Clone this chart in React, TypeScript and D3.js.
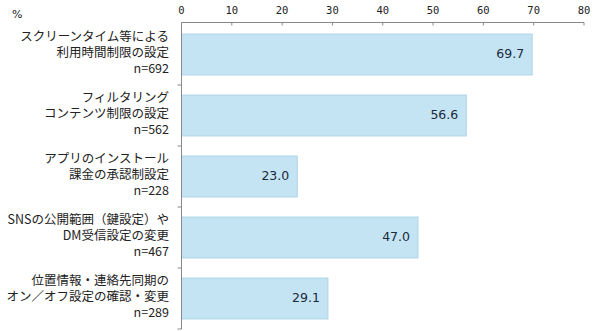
import React from "react";
import * as d3 from "d3";

const categories: string[][] = [
  ["スクリーンタイム等による", "利用時間制限の設定", "n=692"],
  ["フィルタリング", "コンテンツ制限の設定", "n=562"],
  ["アプリのインストール", "課金の承認制設定", "n=228"],
  ["SNSの公開範囲（鍵設定）や", "DM受信設定の変更", "n=467"],
  ["位置情報・連絡先同期の", "オン／オフ設定の確認・変更", "n=289"],
];
const values: number[] = [69.7, 56.6, 23.0, 47.0, 29.1];
const ticks: number[] = [0, 10, 20, 30, 40, 50, 60, 70, 80];

export default function App() {
  const W = 600, H = 331;
  const x = d3.scaleLinear().domain([0, 80]).range([181.5, 584]);
  const ids = categories.map((_, i) => String(i));
  const y = d3.scaleBand().domain(ids).range([24, 329]).paddingInner(0.33).paddingOuter(0.165);
  const band = d3.scaleBand().domain(ids).range([24, 329]);
  const jp = "'Noto Sans CJK JP', sans-serif";
  return (
    <svg width={W} height={H} style={{ position: "absolute", left: 0, top: 0, background: "#fff" }}>
      <text x={12} y={18} fontSize={11} fontFamily="'DejaVu Sans', sans-serif" fill="#222">%</text>
      {ticks.map((t) => (
        <g key={t}>
          <text x={x(t)} y={14} textAnchor="middle" fontSize={10.5} fontFamily="'DejaVu Sans Mono', monospace" fill="#222">{t}</text>
          <line x1={x(t)} x2={x(t)} y1={22.5} y2={25.5} stroke="#888" />
        </g>
      ))}
      <line x1={x(0)} x2={x(80)} y1={22.5} y2={22.5} stroke="#888" />
      {values.map((v, i) => (
        <g key={i}>
          <rect x={x(0)} y={y(String(i))!} width={x(v) - x(0)} height={y.bandwidth()} fill="#c4e4f4" stroke="#acd3ea" strokeWidth={1} />
          <text x={x(v) - 8} y={y(String(i))! + y.bandwidth() / 2 + 3.5} textAnchor="end" fontSize={12.5} fontFamily="'DejaVu Sans', sans-serif" fill="#1b2a3a">{v.toFixed(1)}</text>
        </g>
      ))}
      <line x1={x(0)} x2={x(0)} y1={22.5} y2={329} stroke="#888" />
      {ids.map((id) => (
        <line key={id} x1={x(0) - 4} x2={x(0)} y1={band(id)! + band.bandwidth()} y2={band(id)! + band.bandwidth()} stroke="#888" />
      ))}
      {categories.map((lines, i) => {
        const c = band(String(i))! + band.bandwidth() / 2;
        return (
          <text key={i} textAnchor="end" fontSize={12.5} fontFamily={jp} fill="#222">
            {lines.map((l, j) => (
              <tspan key={j} x={169} y={c + (j - 1) * 16 + 2}>{l}</tspan>
            ))}
          </text>
        );
      })}
    </svg>
  );
}
